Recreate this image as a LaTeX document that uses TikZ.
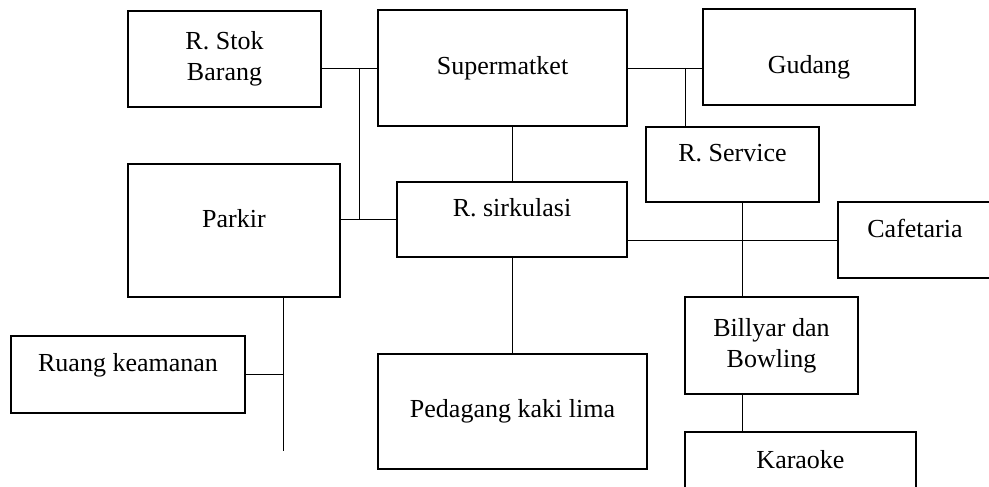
\documentclass[tikz,border=0pt]{standalone}
\usepackage{fontspec}
\setmainfont{Liberation Serif}
\begin{document}
\begin{tikzpicture}[
    x=1pt, y=-1pt,
    box/.style={draw=black, line width=1.1pt, inner sep=2pt, align=center,
                font=\fontsize{26}{31}\selectfont},
    lift/.style={text depth=24pt},
    sink/.style={text height=39pt},
    link/.style={draw=black, line width=0.9pt}
]
\useasboundingbox (0,0) rectangle (989,487);
\clip (0,0) rectangle (989,487);

%% left column
\node[box, minimum width=193pt, minimum height=96pt]  (stok)   at (224.5,59)   {R. Stok\\Barang};
\node[box, lift, minimum width=212pt, minimum height=133pt] (parkir) at (234,230.5) {Parkir};
\node[box, lift, minimum width=234pt, minimum height=77pt]  (ruang)  at (128,374.5) {Ruang keamanan};

%% middle column
\node[box, minimum width=249pt, minimum height=116pt] (super) at (502.5,68)   {Supermatket};
\node[box, lift, minimum width=230pt, minimum height=75pt]  (sirk)  at (512,219.5) {R. sirkulasi};
\node[box, minimum width=269pt, minimum height=115pt] (pedag) at (512.5,411.5) {Pedagang kaki lima};

%% right column
\node[box, sink, minimum width=212pt, minimum height=96pt] (gudang) at (809,57)     {Gudang};
\node[box, lift, minimum width=173pt, minimum height=75pt] (rserv)  at (732.5,164.5) {R. Service};
\node[box, lift, minimum width=180pt, minimum height=76pt] (cafe)   at (928,240)    {\hspace*{-26pt}Cafetaria};
\node[box, minimum width=173pt, minimum height=97pt]  (bill)   at (771.5,345.5) {Billyar dan\\Bowling};
\node[box, lift, minimum width=231pt, minimum height=78pt] (kara)   at (800.5,471)  {Karaoke};

%% junctions
\coordinate (jl) at (359,68);
\coordinate (jr) at (685,68);
\coordinate (js) at (742,240);
\coordinate (jp) at (283,451);

%% connectors
\draw[link] (super.west) -- (super.west -| stok.east);
\draw[link] (jl) -- (jl |- sirk.west);
\draw[link] (sirk.west) -- (sirk.west -| parkir.east);
\draw[link] (super.east) -- (super.east -| gudang.west);
\draw[link] (jr) -- (jr |- rserv.north);
\draw[link] (sirk.north) -- (sirk.north |- super.south);
\draw[link] (pedag.north) -- (pedag.north |- sirk.south);
\draw[link] (cafe.west) -- (cafe.west -| sirk.east);
\draw[link] (js |- rserv.south) -- (js |- bill.north);
\draw[link] (js |- bill.south) -- (js |- kara.north);
\draw[link] (jp |- parkir.south) -- (jp);
\draw[link] (ruang.east) -- (ruang.east -| jp);
\end{tikzpicture}
\end{document}
